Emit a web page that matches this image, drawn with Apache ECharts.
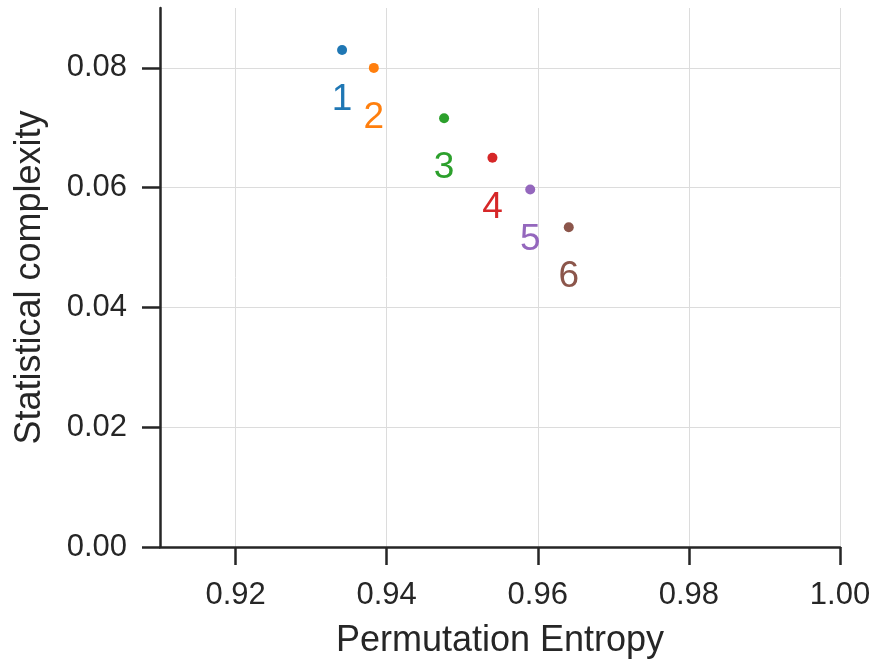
<!DOCTYPE html>
<html>
<head>
<meta charset="utf-8">
<script src="https://cdn.jsdelivr.net/npm/echarts@6/dist/echarts.min.js"></script>
<style>
  html, body { margin: 0; padding: 0; background: #fff; }
  #chart { width: 875px; height: 664px; }
</style>
</head>
<body>
<div id="chart"></div>
<script>
const pointLabels = ['1', '2', '3', '4', '5', '6'];
const entropy = [0.9341, 0.9383, 0.9476, 0.9540, 0.9590, 0.9641];
const complexity = [0.0830, 0.0800, 0.0716, 0.0650, 0.0597, 0.0534];
const colors = ['#1f77b4', '#ff7f0e', '#2ca02c', '#d62728', '#9467bd', '#8c564b'];
const xTicks = [0.92, 0.94, 0.96, 0.98, 1.00];
const yTicks = [0.00, 0.02, 0.04, 0.06, 0.08];

const ink = '#262626';
const font = 'Liberation Sans, Arial, sans-serif';

const chart = echarts.init(document.getElementById('chart'));

const series = pointLabels.map((name, i) => ({
    type: 'scatter',
    name: name,
    data: [[entropy[i], complexity[i]]],
    symbolSize: 10,
    itemStyle: { color: colors[i], opacity: 1 },
    label: {
        show: true,
        position: 'inside',
        offset: [0, 50],
        formatter: name,
        color: colors[i],
        opacity: 1,
        fontSize: 37,
        fontFamily: font
    },
    z: 3
}));

chart.setOption({
    animation: false,
    backgroundColor: '#fff',
    grid: { left: 160, right: 35, top: 8, bottom: 116, containLabel: false },
    xAxis: {
        type: 'value',
        min: 0.91,
        max: 1.00,
        name: 'Permutation Entropy',
        nameLocation: 'middle',
        nameGap: 76,
        nameTextStyle: { color: ink, fontSize: 36, fontFamily: font },
        axisLine: { lineStyle: { color: ink, width: 2.5 } },
        axisTick: { show: true, length: 18, customValues: xTicks, lineStyle: { color: ink, width: 2.5 } },
        axisLabel: {
            customValues: xTicks,
            margin: 33,
            color: ink, fontSize: 31, fontFamily: font,
            formatter: v => v.toFixed(2)
        },
        splitLine: { show: true, customValues: xTicks, lineStyle: { color: '#dcdcdc', width: 1 } }
    },
    yAxis: {
        type: 'value',
        min: 0,
        max: 0.09,
        name: 'Statistical complexity',
        nameLocation: 'middle',
        nameGap: 112,
        nameTextStyle: { color: ink, fontSize: 36, fontFamily: font },
        axisLine: { show: true, lineStyle: { color: ink, width: 2.5 } },
        axisTick: { show: true, length: 18, customValues: yTicks, lineStyle: { color: ink, width: 2.5 } },
        axisLabel: {
            customValues: yTicks,
            margin: 33,
            color: ink, fontSize: 31, fontFamily: font,
            formatter: v => v.toFixed(2)
        },
        splitLine: { show: true, customValues: yTicks, lineStyle: { color: '#dcdcdc', width: 1 } }
    },
    series: series
});
</script>
</body>
</html>
